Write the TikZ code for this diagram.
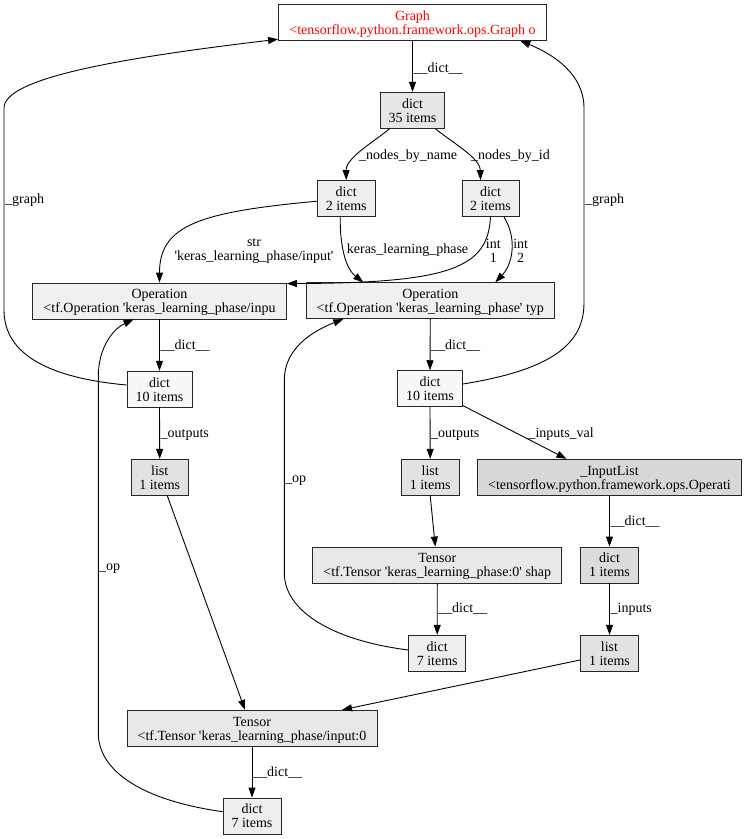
\documentclass[tikz,border=0pt]{standalone}
\usepackage{fontspec}
\setmainfont{Liberation Serif}
\usetikzlibrary{arrows.meta}
\newcommand\fs{\fontsize{14pt}{14pt}\selectfont}
\newcommand\sq{\textquotesingle}
\newcommand\topstrut{\rule{0pt}{13pt}}
\newcommand\botstrut{\rule[-3.3pt]{0pt}{3.3pt}}
\newcommand\twolines[2]{\topstrut#1\\#2\botstrut}
\definecolor{c35}{HTML}{E6E6E6}
\definecolor{cdtwo}{HTML}{EEEEEE}
\definecolor{cop}{HTML}{F0F0F0}
\definecolor{cdten}{HTML}{F8F8F8}
\definecolor{clist}{HTML}{E2E2E2}
\definecolor{cinl}{HTML}{D8D8D8}
\definecolor{cdone}{HTML}{DCDCDC}
\definecolor{ctensor}{HTML}{E8E8E8}
\definecolor{cdseven}{HTML}{EEEEEE}
\tikzset{
  box/.style={draw=black!85, line width=0.9pt, rectangle, minimum height=36pt,
    inner xsep=2pt, inner ysep=0pt, align=center, font=\fs},
  edge/.style={draw=black, line width=0.9pt, -{Triangle[length=10pt,width=7pt]}},
  lab/.style={font=\fs, inner sep=0pt, anchor=base west},
  labtwo/.style={font=\fs, inner sep=0pt, align=center, anchor=center}
}
\begin{document}
\begin{tikzpicture}[x=1pt,y=1pt]
\useasboundingbox (0,0) rectangle (746,-839);
% nodes
\node[box, fill=white, minimum width=268pt, text=red] (graph) at (412.5,-22.3) {\twolines{Graph}{<tensorflow.python.framework.ops.Graph o}};
\node[box, fill=c35, minimum width=64pt] (d35) at (412.5,-110.3) {\twolines{dict}{35 items}};
\node[box, fill=cdtwo, minimum width=58pt] (d2L) at (346.2,-198.5) {\twolines{dict}{2 items}};
\node[box, fill=cdtwo, minimum width=57pt] (d2R) at (490.5,-198.5) {\twolines{dict}{2 items}};
\node[box, fill=cop, minimum width=254pt] (opL) at (159.5,-301) {\twolines{Operation}{<tf.Operation \sq keras\_learning\_phase/inpu}};
\node[box, fill=cop, minimum width=248.5pt] (opR) at (430.3,-300.7) {\twolines{Operation}{<tf.Operation \sq keras\_learning\_phase\sq{} typ}};
\node[box, fill=cdten, minimum width=65pt] (d10L) at (159.5,-389.2) {\twolines{dict}{10 items}};
\node[box, fill=cdten, minimum width=65pt] (d10R) at (430,-388.7) {\twolines{dict}{10 items}};
\node[box, fill=clist, minimum width=57.5pt] (lL) at (159.7,-477.3) {\twolines{list}{1 items}};
\node[box, fill=clist, minimum width=57.5pt] (lR) at (430.2,-477.3) {\twolines{list}{1 items}};
\node[box, fill=cinl, minimum width=263.5pt] (inl) at (609.5,-477.3) {\twolines{\_InputList}{<tensorflow.python.framework.ops.Operati}};
\node[box, fill=ctensor, minimum width=249pt] (tR) at (437.3,-565) {\twolines{Tensor}{<tf.Tensor \sq keras\_learning\_phase:0\sq{} shap}};
\node[box, fill=cdone, minimum width=58pt] (d1) at (609.5,-565) {\twolines{dict}{1 items}};
\node[box, fill=cdseven, minimum width=57pt] (d7R) at (437.2,-653.3) {\twolines{dict}{7 items}};
\node[box, fill=clist, minimum width=58pt] (l1R) at (609.5,-653.3) {\twolines{list}{1 items}};
\node[box, fill=ctensor, minimum width=250pt] (tL) at (252,-728.3) {\twolines{Tensor}{<tf.Tensor \sq keras\_learning\_phase/input:0}};
\node[box, fill=cdseven, minimum width=58pt] (d7L) at (252,-816) {\twolines{dict}{7 items}};
% edges
\draw[edge] (graph.south) -- (d35.north);
\draw[edge] (d35) .. controls (372,-143) and (346,-158) .. (d2L.north);
\draw[edge] (d35) .. controls (453,-143) and (480,-158) .. ([xshift=-10pt]d2R.north);
\draw[edge] (d2L) .. controls (200,-212) and (159.5,-225) .. (opL.north);
\draw[edge] ([xshift=-6pt]d2L.south) .. controls (340,-245) and (345,-268) .. ([xshift=-67pt]opR.north);
\draw[edge] (d2R.south) .. controls (488,-268) and (450,-283) .. ([yshift=-1pt]opL.north east);
\draw[edge] ([xshift=13.5pt]d2R.south) .. controls (518,-240) and (512,-265) .. ([xshift=65pt]opR.north);
\draw[edge] (opL.south) -- (d10L.north);
\draw[edge] (opR.south) -- (d10R.north);
\draw[edge] ([yshift=4.2pt]d10L.west) .. controls (50,-378) and (4,-355) .. (4,-310) -- (4,-108) .. controls (4,-78) and (120,-58) .. ([yshift=1.5pt]graph.south west);
\draw[edge] ([yshift=4.7pt]d10R.east) .. controls (550,-370) and (584,-345) .. (584,-303) -- (584,-108) .. controls (584,-75) and (555,-55) .. ([xshift=-26.7pt]graph.south east);
\draw[edge] (d10L.south) -- (lL.north);
\draw[edge] (d10R.south) -- (lR.north);
\draw[edge] (d10R) -- ([xshift=-43pt]inl.north);
\draw[edge] ([xshift=7.6pt]lL.south) -- ([xshift=-7pt]tL.north);
\draw[edge] (lR.south) -- ([xshift=-2pt]tR.north);
\draw[edge] (inl.south) -- (d1.north);
\draw[edge] (d1.south) -- (l1R.north);
\draw[edge] (tR.south) -- (d7R.north);
\draw[edge] ([yshift=-6.7pt]l1R.west) -- ([xshift=90pt]tL.north);
\draw[edge] ([yshift=3.3pt]d7R.west) .. controls (330,-640) and (284.3,-610) .. (284.3,-573) -- (284.3,-380) .. controls (284.3,-350) and (310,-332) .. ([xshift=-87pt]opR.south);
\draw[edge] (tL.south) -- (d7L.north);
\draw[edge] ([yshift=4.3pt]d7L.west) .. controls (140,-800) and (98.3,-770) .. (98.3,-733) -- (98.3,-377) .. controls (98.3,-345) and (115,-328) .. ([xshift=-26pt]opL.south);
% labels
\node[lab] (e1) at (413.5,-72.5) {\_\_dict\_\_};
\node[lab] (e2) at (359,-159) {\_nodes\_by\_name};
\node[lab] (e3) at (471,-159) {\_nodes\_by\_id};
\node[labtwo] (e4) at (254,-250.7) {str\\\sq keras\_learning\_phase/input\sq};
\node[lab] (e5) at (346.7,-253.5) {keras\_learning\_phase};
\node[labtwo] (e6) at (493.3,-250.7) {int\\1};
\node[labtwo] (e7) at (520.7,-250.7) {int\\2};
\node[lab] (e8) at (160.5,-349.5) {\_\_dict\_\_};
\node[lab] (e9) at (431,-349.5) {\_\_dict\_\_};
\node[lab] (e10) at (5,-203.3) {\_graph};
\node[lab] (e11) at (585,-203.3) {\_graph};
\node[lab] (e12) at (160.5,-437.3) {\_outputs};
\node[lab] (e13) at (431,-437.3) {\_outputs};
\node[lab] (e14) at (528.3,-437.3) {\_inputs\_val};
\node[lab] (e15) at (99,-570) {\_op};
\node[lab] (e16) at (285,-482) {\_op};
\node[lab] (e17) at (610.5,-525) {\_\_dict\_\_};
\node[lab] (e18) at (610.5,-612.7) {\_inputs};
\node[lab] (e19) at (438,-612.7) {\_\_dict\_\_};
\node[lab] (e20) at (253,-776) {\_\_dict\_\_};
\end{tikzpicture}
\end{document}
